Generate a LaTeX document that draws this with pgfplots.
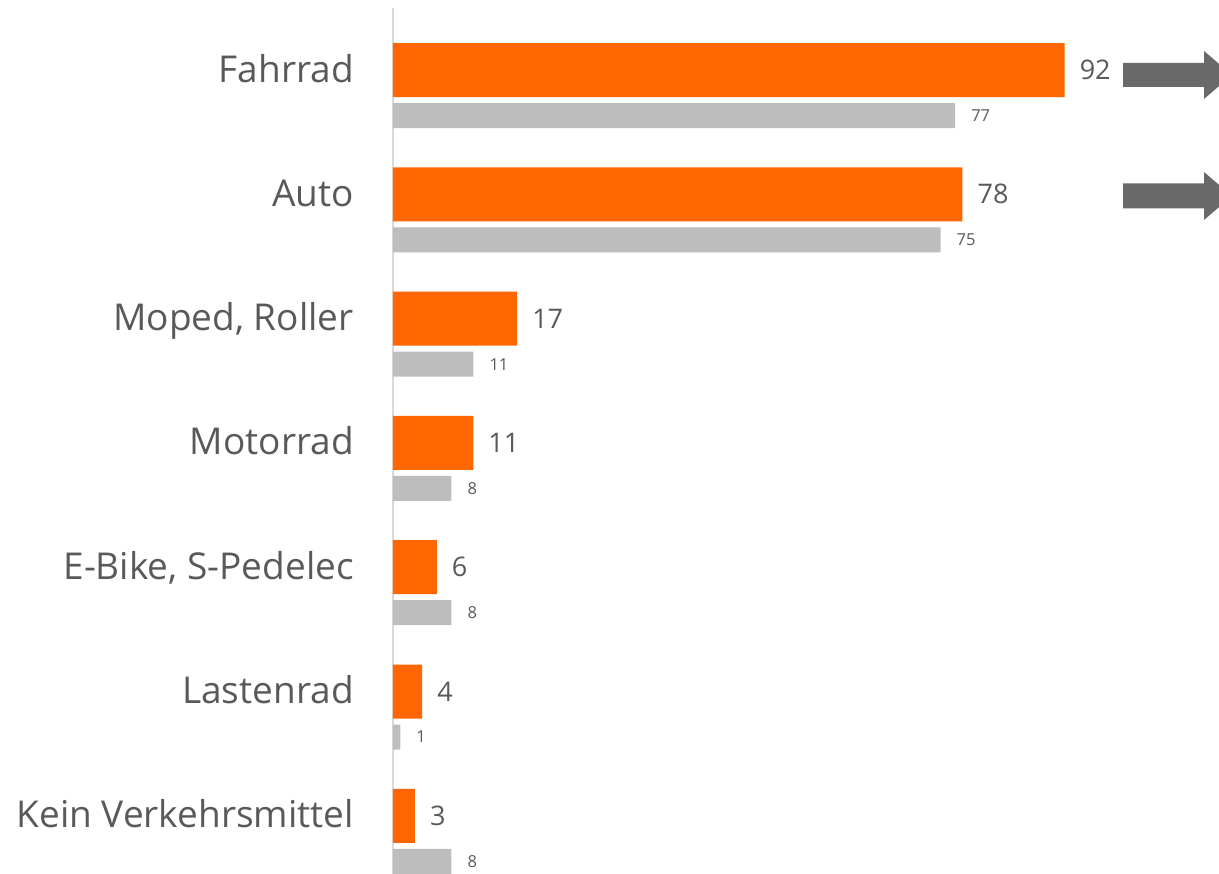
\documentclass[border=0pt]{standalone}
\usepackage{pgfplots}
\pgfplotsset{compat=1.18}
\usepackage{fontspec}
\setmainfont{Open Sans}
\definecolor{barorange}{HTML}{FF6600}
\definecolor{bargray}{HTML}{BDBDBD}
\definecolor{labelgray}{HTML}{595959}
\definecolor{axisgray}{HTML}{D9D9D9}
\definecolor{arrowgray}{HTML}{696969}
\begin{document}
\begin{tikzpicture}[x=1pt,y=1pt]
\path[use as bounding box] (0,0) rectangle (1219,874);
\clip (0,0) rectangle (1219,874);
\begin{axis}[
  at={(393pt,0pt)}, anchor=south west,
  scale only axis, width=730pt, height=866pt,
  xmin=0, xmax=100, ymin=-0.468, ymax=6.499,
  axis x line=none, axis y line=left,
  y axis line style={draw=axisgray, line width=2pt, -},
  xbar, bar width=54pt,
  ytick={0,1,2,3,4,5,6},
  yticklabels={Kein Verkehrsmittel, Lastenrad, {E-Bike, S-Pedelec}, Motorrad, {Moped, Roller}, Auto, Fahrrad},
  major tick length=0pt,
  yticklabel style={anchor=base east, inner sep=0pt, xshift=-39pt, yshift=-12pt, font=\fontsize{37}{40}\selectfont, text=labelgray},
  /pgf/number format/assume math mode=true,
  clip=false,
]
\addplot[fill=barorange, draw=none, bar shift=0pt, point meta=x,
  nodes near coords,
  nodes near coords style={anchor=west, inner sep=0pt, xshift=15pt, font=\fontsize{27}{30}\selectfont, text=labelgray}]
  coordinates {(92,6) (78,5) (17,4) (11,3) (6,2) (4,1) (3,0)};
\addplot[fill=bargray, draw=none, bar width=25pt, bar shift=-45.5pt, point meta=x,
  nodes near coords,
  nodes near coords style={anchor=west, inner sep=0pt, xshift=16pt, font=\fontsize{16.5}{19}\selectfont, text=labelgray}]
  coordinates {(77,6) (75,5) (11,4) (8,3) (8,2) (1,1) (8,0)};
\end{axis}
\fill[arrowgray] (1123,787) -- (1204,787) -- (1204,775) -- (1232,799) -- (1204,823) -- (1204,811) -- (1123,811) -- cycle;
\fill[arrowgray] (1123,665.5) -- (1204,665.5) -- (1204,654) -- (1232,678) -- (1204,702) -- (1204,690.5) -- (1123,690.5) -- cycle;
\end{tikzpicture}
\end{document}
